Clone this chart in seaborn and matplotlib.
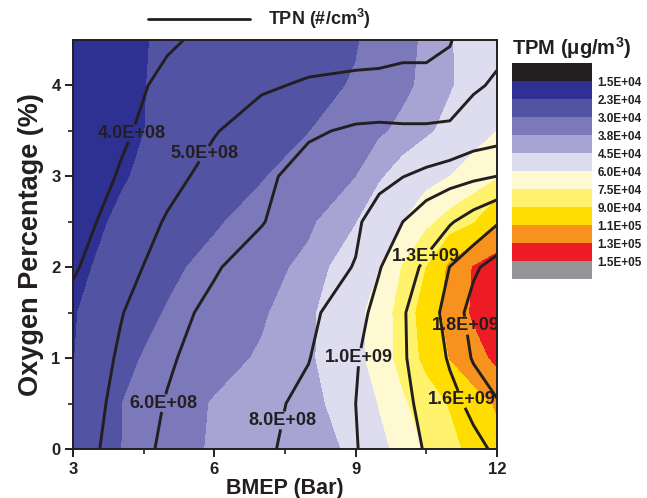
import numpy as np
import matplotlib
matplotlib.use("Agg")
import matplotlib.pyplot as plt
from matplotlib.colors import ListedColormap, BoundaryNorm
from matplotlib.cm import ScalarMappable
from matplotlib.lines import Line2D
import seaborn as sns

# Operating grid
bmep = [3, 4, 5, 6, 7, 8, 9, 9.5, 10, 10.5, 11, 11.5, 12]        # bar
oxygen = [0, 0.5, 1.0, 1.5, 2.0, 2.5, 3.0, 3.5, 4.0, 4.5]          # %

# Total particle mass, in units of 1e4 ug/m3 (one row per oxygen level)
tpm_rows = [
    [2.47, 2.98, 3.49, 3.88, 4.09, 4.30, 4.59, 5.53, 6.55, 7.62, 8.51, 9.45, 10.4],
    [2.52, 2.98, 3.43, 3.85, 4.08, 4.30, 4.86, 6.07, 7.26, 8.21, 9.10, 10.16, 11.2],
    [2.28, 2.84, 3.22, 3.54, 3.88, 4.31, 5.53, 6.68, 8.02, 9.40, 11.05, 12.2, 13.4],
    [2.26, 2.66, 3.04, 3.37, 3.70, 4.28, 5.56, 6.66, 8.10, 9.72, 11.67, 13.25, 14.5],
    [2.16, 2.51, 2.86, 3.20, 3.53, 3.98, 5.15, 5.97, 7.58, 9.00, 11.36, 13.1, 14.0],
    [2.10, 2.37, 2.64, 2.92, 3.27, 3.66, 4.45, 5.21, 6.00, 7.15, 8.05, 8.84, 10.8],
    [2.02, 2.25, 2.49, 2.72, 2.95, 3.35, 3.78, 4.37, 4.93, 5.46, 6.00, 6.65, 7.3],
    [2.00, 2.20, 2.39, 2.59, 2.79, 2.98, 3.44, 3.68, 3.98, 4.33, 4.80, 5.40, 6.0],
    [2.05, 2.21, 2.37, 2.53, 2.69, 2.85, 3.04, 3.33, 3.62, 3.98, 4.41, 4.90, 5.3],
    [2.05, 2.20, 2.36, 2.51, 2.66, 2.81, 2.96, 3.18, 3.54, 3.93, 4.43, 4.84, 5.2],
]

# Total particle number, in units of 1e8 #/cm3 (one row per oxygen level)
tpn_rows = [
    [4.50, 5.38, 6.22, 6.95, 7.68, 8.68, 9.89, 10.93, 12.07, 13.19, 14.26, 15.34, 16.4],
    [4.42, 5.25, 6.07, 6.79, 7.50, 8.46, 10.0, 11.19, 12.38, 13.73, 15.24, 16.6, 17.8],
    [4.35, 5.10, 5.85, 6.55, 7.24, 7.93, 9.80, 11.2, 12.7, 14.45, 16.28, 18.2, 19.5],
    [4.28, 4.95, 5.62, 6.28, 6.94, 7.60, 9.14, 10.78, 12.73, 14.79, 16.95, 18.7, 20.0],
    [3.89, 4.69, 5.34, 5.89, 6.58, 7.30, 8.07, 9.86, 11.64, 13.6, 16.05, 17.68, 18.8],
    [3.62, 4.38, 5.08, 5.50, 5.93, 6.80, 7.76, 8.67, 10.0, 11.36, 12.73, 14.24, 15.8],
    [3.40, 4.07, 4.73, 5.29, 5.77, 6.41, 7.19, 7.57, 7.96, 8.46, 8.98, 9.50, 10.02],
    [3.30, 3.85, 4.40, 4.95, 5.41, 5.86, 6.15, 6.20, 6.15, 6.15, 6.20, 6.80, 7.0],
    [3.40, 3.78, 4.15, 4.52, 4.89, 5.10, 5.15, 5.15, 5.20, 5.20, 5.30, 5.80, 6.2],
    [3.30, 3.60, 3.92, 4.15, 4.35, 4.55, 4.70, 4.75, 4.80, 4.80, 4.95, 5.45, 5.6],
]

# Filled TPM classes and TPN line levels
tpm_levels = [1.5e4, 2.3e4, 3.0e4, 3.8e4, 4.5e4, 6.0e4, 7.5e4, 9.0e4, 1.1e5, 1.3e5, 1.5e5]
tpn_levels = [4.0e8, 5.0e8, 6.0e8, 8.0e8, 1.0e9, 1.3e9, 1.6e9, 1.8e9]
band_hex = ["#231f20", "#2e3192", "#5253a3", "#7b79b9", "#a7a4d4", "#dedcef",
            "#fff9d1", "#fff36e", "#ffdd00", "#f7921e", "#ed1c24", "#939598"]

sns.set_theme(style="ticks")
plt.rcParams["font.family"] = ["Liberation Sans", "DejaVu Sans"]
plt.rcParams["font.weight"] = "bold"
plt.rcParams["axes.labelweight"] = "bold"
plt.rcParams["mathtext.fontset"] = "custom"
plt.rcParams["mathtext.rm"] = "Liberation Sans"
plt.rcParams["mathtext.bf"] = "Liberation Sans:bold"
ink = "#231f20"

band_colors = sns.color_palette(band_hex)
bounds = [0.0] + tpm_levels + [1.0e6]

X, Y = np.meshgrid(bmep, oxygen)
tpm = np.array(tpm_rows) * 1e4
tpn = np.array(tpn_rows) * 1e8

fig = plt.figure(figsize=(6.47, 4.98), dpi=100)
ax = fig.add_axes([73 / 647, 49 / 498, 424 / 647, 409 / 498])

ax.contourf(X, Y, tpm, levels=bounds, colors=band_colors)
cs = ax.contour(X, Y, tpn, levels=tpn_levels, colors=ink, linewidths=2.1)

# horizontal value labels sitting on the TPN lines
label_spots = [(4.27, 3.47), (5.78, 3.25), (4.89, 0.51), (7.67, 0.29),
               (9.18, 1.00), (10.47, 2.12), (11.13, 1.34), (11.22, 0.54)]
texts = ax.clabel(cs, manual=label_spots, inline=True, inline_spacing=1,
                  fontsize=3.2, fmt=lambda v: f"{v:.1E}")
for t in texts:
    t.set_rotation(0)
    t.set_fontsize(13)
    t.set_fontweight("bold")
    t.set_color(ink)

ax.set_xlim(3, 12)
ax.set_ylim(0, 4.5)
ax.set_xticks([3, 6, 9, 12])
ax.set_xticks([4.5, 7.5, 10.5], minor=True)
ax.set_yticks([0, 1, 2, 3, 4])
ax.set_yticks([0.5, 1.5, 2.5, 3.5], minor=True)
ax.tick_params(which="major", direction="out", length=6, width=1.4, color=ink,
               labelsize=12, labelcolor=ink, pad=3)
ax.tick_params(which="minor", direction="out", length=3.5, width=1.2, color=ink)
for lab in ax.get_xticklabels() + ax.get_yticklabels():
    lab.set_fontweight("bold")
for sp in ax.spines.values():
    sp.set_color(ink)
    sp.set_linewidth(1.4)

# mirrored inward ticks on top and right
top = ax.secondary_xaxis("top")
top.set_xticks([3, 6, 9, 12])
top.set_xticks([4.5, 7.5, 10.5], minor=True)
top.tick_params(which="both", direction="in", labeltop=False, color=ink, width=1.2)
top.tick_params(which="major", length=6)
top.tick_params(which="minor", length=3.5)
right = ax.secondary_yaxis("right")
right.set_yticks([0, 1, 2, 3, 4])
right.set_yticks([0.5, 1.5, 2.5, 3.5], minor=True)
right.tick_params(which="both", direction="in", labelright=False, color=ink, width=1.2)
right.tick_params(which="major", length=6)
right.tick_params(which="minor", length=3.5)
for sec in (top, right):
    for sp in sec.spines.values():
        sp.set_visible(False)

ax.set_xlabel("BMEP (Bar)", fontsize=15.5, fontweight="bold", color=ink, labelpad=1)
ax.set_ylabel("Oxygen Percentage (%)", fontsize=19.5, fontweight="bold", color=ink, labelpad=5)

# TPN line key above the plot
fig.add_artist(Line2D([148 / 647, 250 / 647], [1 - 19 / 498, 1 - 19 / 498],
                      color=ink, lw=2.0, transform=fig.transFigure))
fig.text(268 / 647, 1 - 19 / 498, r"TPN (#/cm$^{\mathbf{3}}$)", fontsize=13, fontweight="bold",
         color=ink, ha="left", va="center")

# TPM colour key
cax = fig.add_axes([512 / 647, 1 - 279 / 498, 80 / 647, 216 / 498])
sm = ScalarMappable(norm=BoundaryNorm(bounds, len(band_hex)), cmap=ListedColormap(band_hex))
cb = fig.colorbar(sm, cax=cax, spacing="uniform", ticks=tpm_levels)
cax.invert_yaxis()
cb.outline.set_visible(False)
cax.minorticks_off()
cb.set_ticklabels([f"{v:.1E}" for v in tpm_levels])
cax.tick_params(which="both", length=0, pad=4, labelsize=8.5, labelcolor=ink)
for lab in cax.get_yticklabels():
    lab.set_fontweight("bold")
fig.text(512 / 647, 1 - 48 / 498, r"TPM (μg/m$^{\mathbf{3}}$)", fontsize=14.5, fontweight="bold",
         color=ink, ha="left", va="center")

fig.savefig("out.png", dpi=100)
